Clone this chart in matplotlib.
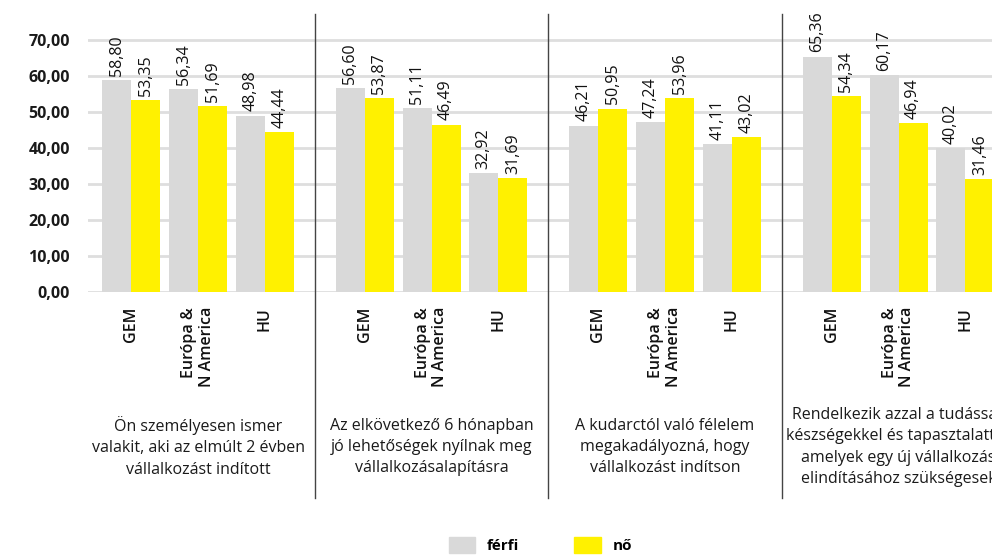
import matplotlib
matplotlib.use("Agg")
import matplotlib.pyplot as plt
from matplotlib.patches import Patch

plt.rcParams['font.family'] = ['Open Sans', 'DejaVu Sans']

# --- data -------------------------------------------------------------
regions = ["GEM", "Európa &\nN America", "HU"]
questions = [
    "Ön személyesen ismer\nvalakit, aki az elmúlt 2 évben\nvállalkozást indított",
    "Az elkövetkező 6 hónapban\njó lehetőségek nyílnak meg\nvállalkozásalapításra",
    "A kudarctól való félelem\nmegakadályozná, hogy\nvállalkozást indítson",
    "Rendelkezik azzal a tudással,\nkészségekkel és tapasztalattal,\namelyek egy új vállalkozás\nelindításához szükségesek",
]
ferfi = [58.80, 56.34, 48.98,
         56.60, 51.11, 32.92,
         46.21, 47.24, 41.11,
         65.36, 60.17, 40.02]
no = [53.35, 51.69, 44.44,
      53.87, 46.49, 31.69,
      50.95, 53.96, 43.02,
      54.34, 46.94, 31.46]
series_names = ["férfi", "nő"]
y_ticks = [0, 10, 20, 30, 40, 50, 60, 70]

# --- layout -----------------------------------------------------------
W, H = 992, 555
fig = plt.figure(figsize=(W / 100, H / 100), dpi=100)
ax = fig.add_axes([88 / W, (H - 292) / H, 1 - 88 / W, 278 / H])

GREY = "#d9d9d9"
YELLOW = "#fff100"
group_step = 3.5
bw = 0.435

xs = []
for g in range(len(questions)):
    for c in range(len(regions)):
        xs.append(g * group_step + c)

ax.set_xlim(-0.65, 12.9)
ax.set_ylim(0, 77.2)

for t in y_ticks:
    ax.axhline(t, color="#dedede", lw=2.0, zorder=0)

b1 = ax.bar([x - bw / 2 for x in xs], ferfi, width=bw, color=GREY, zorder=2,
            label=series_names[0])
b2 = ax.bar([x + bw / 2 for x in xs], no, width=bw, color=YELLOW, zorder=2,
            label=series_names[1])

fmt = lambda v: f"{v:.2f}".replace(".", ",")
for bars, vals in ((b1, ferfi), (b2, no)):
    for rect, v in zip(bars, vals):
        ax.annotate(fmt(v), (rect.get_x() + rect.get_width() / 2, v),
                    xytext=(0, 3), textcoords="offset points",
                    rotation=90, ha="center", va="bottom",
                    fontsize=11.5, color="#111111", clip_on=False)

ax.set_yticks(y_ticks)
ax.set_yticklabels([fmt(t) for t in y_ticks], fontsize=11.5, fontweight="bold",
                   color="#1a1a1a")
ax.tick_params(axis="y", length=0, pad=13)
ax.set_xticks([])
for s in ax.spines.values():
    s.set_visible(False)

xt = ax.get_xaxis_transform()
# region labels under each pair of bars
for i, x in enumerate(xs):
    ax.text(x, -0.054, regions[i % 3], transform=xt, rotation=90,
            ha="center", va="top", multialignment="right",
            fontsize=11.5, fontweight="semibold", color="#111111",
            linespacing=1.12)

# question captions
for g, q in enumerate(questions):
    ax.text(g * group_step + 1, -0.5576, q, transform=xt, ha="center",
            va="center", fontsize=11.5, color="#1a1a1a", linespacing=1.42,
            clip_on=False)

# separators between question groups
for g in range(len(questions) - 1):
    ax.plot([g * group_step + 2.75] * 2, [1.0, -0.741], transform=xt,
            color="#444444", lw=1.0, clip_on=False)

fig.legend(handles=[Patch(color=GREY), Patch(color=YELLOW)],
           labels=series_names, loc="lower left",
           bbox_to_anchor=(435 / W, -12 / H), ncol=2, frameon=False,
           prop={"size": 11, "weight": "bold"},
           handlelength=1.75, handleheight=1.3, handletextpad=0.75,
           columnspacing=3.6)

fig.savefig("out.png", dpi=100)
